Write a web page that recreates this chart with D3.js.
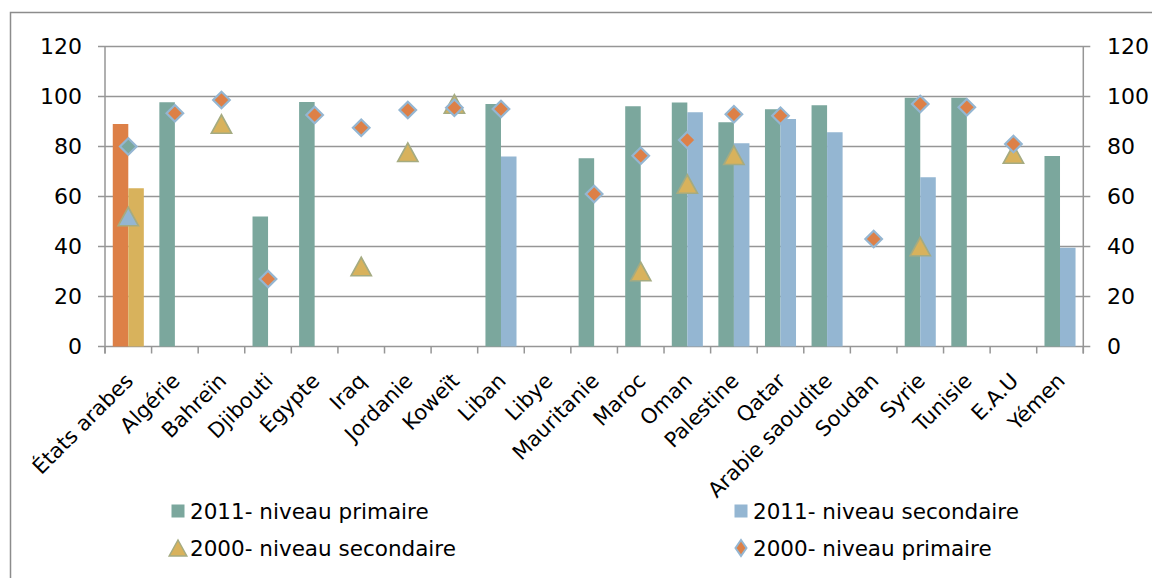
<!DOCTYPE html>
<html><head><meta charset="utf-8">
<script src="https://cdn.jsdelivr.net/npm/d3@7"></script>
<style>
html,body{margin:0;padding:0;background:#fff;}
svg{display:block;}
text{font-family:"DejaVu Sans",sans-serif;fill:#000;}
</style></head>
<body>
<svg id="chart" width="1152" height="578"></svg>
<script>
const categories = ["États arabes","Algérie","Bahreïn","Djibouti","Égypte","Iraq","Jordanie","Koweït","Liban","Libye","Mauritanie","Maroc","Oman","Palestine","Qatar","Arabie saoudite","Soudan","Syrie","Tunisie","E.A.U","Yémen"];
const primaire2011 = [89, 97.7, null, 52, 97.8, null, null, null, 97, null, 75.3, 96.1, 97.6, 89.7, 94.9, 96.5, null, 99.5, 99.5, null, 76.2];
const secondaire2011 = [63.3, null, null, null, null, null, null, null, 76, null, null, null, 93.7, 81.3, 91, 85.7, null, 67.7, null, null, 39.5];
const secondaire2000 = [52, null, 89, null, null, 32, 77.7, 97, null, null, null, 30, 65, 76.5, null, null, null, 40, null, 77, null];
const primaire2000 = [80, 93.3, 98.6, 27, 92.6, 87.5, 94.6, 95.5, 95, null, 61, 76.3, 82.6, 92.9, 92.3, null, 43, 97, 95.7, 81, null];
const yTicks = [0, 20, 40, 60, 80, 100, 120];
const legendLabels = ["2011- niveau primaire", "2011- niveau secondaire", "2000- niveau secondaire", "2000- niveau primaire"];

const C = {teal:"#7BA79D", blue:"#94B6D2", orange:"#DD8047", gold:"#D8B25C", olive:"#A5AB81", grid:"#969696"};

const svg = d3.select("#chart");
const pL = 105, pR = 1083.3, pT = 46.5, pB = 346.5;

// outer border
svg.append("rect").attr("x",10.5).attr("y",12.5).attr("width",1160).attr("height",600)
  .attr("fill","none").attr("stroke","#8c8c8c").attr("stroke-width",1.5);

const x = d3.scaleBand().domain(categories).range([pL, pR]).paddingInner(0).paddingOuter(0);
const y = d3.scaleLinear().domain([0,120]).range([pB, pT]);
const sub = d3.scaleBand().domain(["p","s"]).range([0, x.bandwidth()]).paddingInner(0).paddingOuter(0.5);

// gridlines
svg.append("g").selectAll("line").data(yTicks).join("line")
  .attr("x1", pL-7).attr("x2", pR+7)
  .attr("y1", d=>y(d)).attr("y2", d=>y(d))
  .attr("stroke", C.grid).attr("stroke-width",1.5);

// vertical axis lines
svg.append("line").attr("x1",pL).attr("x2",pL).attr("y1",pT).attr("y2",pB+7).attr("stroke",C.grid).attr("stroke-width",1.5);
svg.append("line").attr("x1",pR).attr("x2",pR).attr("y1",pT).attr("y2",pB+7).attr("stroke",C.grid).attr("stroke-width",1.5);

// x tick marks at category boundaries
const bounds = categories.map(c=>x(c)).concat([pR]);
svg.append("g").selectAll("line").data(bounds).join("line")
  .attr("x1", d=>d).attr("x2", d=>d).attr("y1", pB).attr("y2", pB+7)
  .attr("stroke", C.grid).attr("stroke-width",1.5);

// y axis labels
const yl = svg.append("g").style("font-size","22px");
yl.selectAll("text.l").data(yTicks).join("text").attr("class","l")
  .attr("x", 82).attr("y", d=>y(d)).attr("dy","0.36em").attr("text-anchor","end").text(d=>d);
yl.selectAll("text.r").data(yTicks).join("text").attr("class","r")
  .attr("x", 1107).attr("y", d=>y(d)).attr("dy","0.36em").attr("text-anchor","start").text(d=>d);

// bars
const bars = svg.append("g");
categories.forEach((c,i)=>{
  const v1 = primaire2011[i], v2 = secondaire2011[i];
  if (v1 != null) bars.append("rect").attr("x", x(c)+sub("p")).attr("width", sub.bandwidth())
    .attr("y", y(v1)).attr("height", y(0)-y(v1)).attr("fill", i===0 ? C.orange : C.teal);
  if (v2 != null) bars.append("rect").attr("x", x(c)+sub("s")).attr("width", sub.bandwidth())
    .attr("y", y(v2)).attr("height", y(0)-y(v2)).attr("fill", i===0 ? C.gold : C.blue);
});

// markers
const tri = (s)=>`M0,${-s*0.5}L${s*0.55},${s*0.5}L${-s*0.55},${s*0.5}Z`;
const dia = (w,h)=>`M0,${-h}L${w},0L0,${h}L${-w},0Z`;
const mk = svg.append("g");
categories.forEach((c,i)=>{
  const cx = x(c)+x.bandwidth()/2;
  const t = secondaire2000[i];
  if (t != null) mk.append("path").attr("d", tri(18.5)).attr("transform",`translate(${cx},${y(t)})`)
    .attr("fill", i===0 ? C.blue : C.gold).attr("stroke", C.olive).attr("stroke-width",1.6);
});
categories.forEach((c,i)=>{
  const cx = x(c)+x.bandwidth()/2;
  const d = primaire2000[i];
  if (d != null) mk.append("path").attr("d", dia(8.3,8.3)).attr("transform",`translate(${cx},${y(d)})`)
    .attr("fill", i===0 ? C.teal : C.orange).attr("stroke", C.blue).attr("stroke-width",2.2);
});

// x labels
svg.append("g").style("font-size","21px").selectAll("text").data(categories).join("text")
  .attr("transform", d=>`translate(${x(d)+x.bandwidth()/2+1},${377}) rotate(-45)`)
  .attr("text-anchor","end").attr("dy","0.35em").text(d=>d);

// legend
const lg = svg.append("g").style("font-size","21.5px");
const items = [
  {label:legendLabels[0], type:"sq", fill:C.teal, mx:178, ty:511},
  {label:legendLabels[1], type:"sq", fill:C.blue, mx:741, ty:511},
  {label:legendLabels[2], type:"tri", fill:C.gold, mx:178, ty:548},
  {label:legendLabels[3], type:"dia", fill:C.orange, mx:741, ty:548}
];
items.forEach(it=>{
  if (it.type==="sq") lg.append("rect").attr("x",it.mx-6.5).attr("y",it.ty-6.5).attr("width",13).attr("height",13).attr("fill",it.fill);
  else if (it.type==="tri") lg.append("path").attr("d",tri(16)).attr("transform",`translate(${it.mx},${it.ty})`).attr("fill",it.fill).attr("stroke",C.olive).attr("stroke-width",1.5);
  else lg.append("path").attr("d",dia(5.5,8)).attr("transform",`translate(${it.mx},${it.ty})`).attr("fill",it.fill).attr("stroke",C.blue).attr("stroke-width",2);
  lg.append("text").attr("x", it.mx+12).attr("y", it.ty).attr("dy","0.36em").text(it.label);
});
</script>
</body></html>
